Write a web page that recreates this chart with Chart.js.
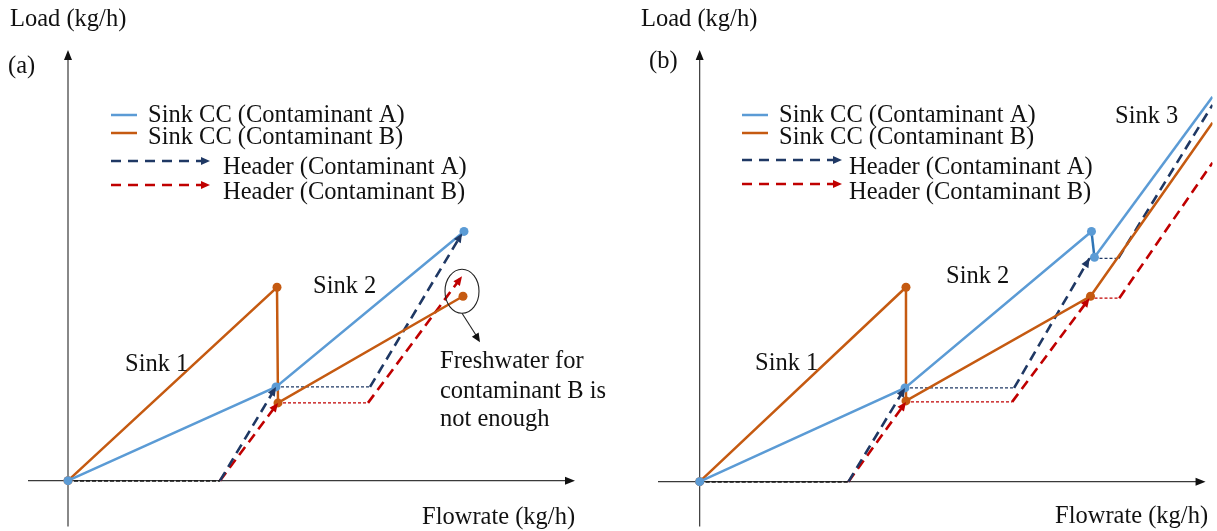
<!DOCTYPE html>
<html>
<head>
<meta charset="utf-8">
<script src="https://cdn.jsdelivr.net/npm/chart.js@4.4.1/dist/chart.umd.min.js"></script>
<style>
    html, body { margin: 0; padding: 0; background: #fff; }
    #wrap { position: relative; width: 1217px; height: 531px; overflow: hidden; }
    .panel { position: absolute; top: 0; height: 531px; }
</style>
</head>
<body>
<div id="wrap">
    <div class="panel" style="left:0;width:608px"><canvas id="chart-a"></canvas></div>
    <div class="panel" style="left:608px;width:609px"><canvas id="chart-b"></canvas></div>
</div>
<script>
// ── Panel (a) ─────────────────────────────────────────────
const aSinkA_x = [0, 20.8, 39.6];
const aSinkA_y = [0, 9.4, 25.0];
const aSinkB_x = [0, 20.9, 21.0, 39.5];
const aSinkB_y = [0, 19.4, 7.8, 18.5];
const aHeadA_x = [0, 15.2, 20.8, 30.2, 39.4];
const aHeadA_y = [0, 0, 9.4, 9.4, 24.8];
const aHeadB_x = [0, 15.2, 21.0, 30.0, 39.4];
const aHeadB_y = [0, 0, 7.8, 7.8, 20.5];
const aHeadKinds = ["dot", "dash", "thin", "dash"];
const aArrowAt = [2, 4];

// ── Panel (b) ─────────────────────────────────────────────
const bSinkA_x = [0, 20.7, 39.5, 39.8, 51.7];
const bSinkA_y = [0, 9.4, 25.1, 22.5, 38.6];
const bSinkB_x = [0, 20.8, 20.8, 39.4, 51.7];
const bSinkB_y = [0, 19.5, 8.1, 18.6, 36.0];
const bHeadA_x = [0, 15.0, 20.7, 31.7, 39.3, 42.2, 51.7];
const bHeadA_y = [0, 0, 9.4, 9.4, 22.4, 22.4, 37.8];
const bHeadB_x = [0, 15.0, 20.8, 31.5, 39.3, 42.3, 51.7];
const bHeadB_y = [0, 0, 8.0, 8.0, 18.4, 18.4, 32.0];
const bHeadKinds = ["dot", "dash", "thin", "dash", "thin", "dash"];
const bArrowAt = [2, 4];

const legendLabels = [
    "Sink CC (Contaminant A)",
    "Sink CC (Contaminant B)",
    "Header (Contaminant A)",
    "Header (Contaminant B)"
];

const BLUE = "#5B9BD5";
const BLUE_DARK = "#2E75B6";
const ORANGE = "#C55A11";
const NAVY = "#1F3864";
const RED = "#C00000";
const FONT = '24.5px "Liberation Serif", "Times New Roman", serif';

const SEG = {
    dot:  { width: 1.5, dash: [4, 2], color: "#1b1b1b" },
    dash: { width: 2.6, dash: [10, 6] },
    thin: { width: 1.2, dash: [3, 2] }
};

const zip = (xs, ys) => xs.map((x, i) => ({ x, y: ys[i] }));

function arrowHead(ctx, x0, y0, x1, y1, color, len = 9, half = 4) {
    const a = Math.atan2(y1 - y0, x1 - x0);
    ctx.save();
    ctx.fillStyle = color;
    ctx.beginPath();
    ctx.moveTo(x1, y1);
    ctx.lineTo(x1 - len * Math.cos(a) + half * Math.sin(a), y1 - len * Math.sin(a) - half * Math.cos(a));
    ctx.lineTo(x1 - len * Math.cos(a) - half * Math.sin(a), y1 - len * Math.sin(a) + half * Math.cos(a));
    ctx.closePath();
    ctx.fill();
    ctx.restore();
}

function sinkDataset(label, xs, ys, color, order, radii, darkSeg) {
    return {
        label,
        data: zip(xs, ys),
        showLine: true,
        borderColor: color,
        backgroundColor: color,
        borderWidth: 2.5,
        pointRadius: radii,
        pointBorderWidth: 0,
        order,
        segment: darkSeg === undefined ? undefined : {
            borderColor: (c) => c.p0DataIndex === darkSeg ? BLUE_DARK : color
        }
    };
}

function headerDataset(label, xs, ys, color, kinds, arrowAt, order) {
    return {
        label,
        data: zip(xs, ys),
        showLine: true,
        borderColor: color,
        borderWidth: 2.6,
        pointRadius: 0,
        order,
        arrowAt,
        arrowColor: color,
        segment: {
            borderDash: (c) => SEG[kinds[c.p0DataIndex]].dash,
            borderWidth: (c) => SEG[kinds[c.p0DataIndex]].width,
            borderColor: (c) => SEG[kinds[c.p0DataIndex]].color || color
        }
    };
}

// Eksenler: ok uçlu çizgiler, değerler ölçekten
const axesPlugin = {
    id: "arrowAxes",
    beforeDatasetsDraw(chart, args, opts) {
        const { ctx, scales: { x, y } } = chart;
        const x0 = x.getPixelForValue(0);
        const y0 = y.getPixelForValue(0);
        const xEnd = x.getPixelForValue(opts.xEnd);
        ctx.save();
        ctx.strokeStyle = "#3a3a3a";
        ctx.lineWidth = 1.2;
        ctx.beginPath();
        ctx.moveTo(x.left, y0);
        ctx.lineTo(xEnd - 4, y0);
        ctx.moveTo(x0, y.bottom);
        ctx.lineTo(x0, y.top + 4);
        ctx.stroke();
        ctx.restore();
        arrowHead(ctx, x.left, y0, xEnd, y0, "#111", 10, 4);
        arrowHead(ctx, x0, y.bottom, x0, y.top, "#111", 10, 4);
    }
};

const headsPlugin = {
    id: "headerArrows",
    afterDatasetsDraw(chart) {
        const ctx = chart.ctx;
        chart.data.datasets.forEach((ds, i) => {
            if (!ds.arrowAt) return;
            const pts = chart.getDatasetMeta(i).data;
            ds.arrowAt.forEach((k) => {
                arrowHead(ctx, pts[k - 1].x, pts[k - 1].y, pts[k].x, pts[k].y, ds.arrowColor, 9, 4);
            });
        });
    }
};

// Yazılar, el yapımı lejant ve (a) paneli için elips notu
const notesPlugin = {
    id: "notes",
    afterDraw(chart, args, opts) {
        const ctx = chart.ctx;
        const lg = opts.legend;
        ctx.save();

        // legend marks
        ctx.lineWidth = 2.5;
        [[BLUE, lg.y[0]], [ORANGE, lg.y[1]]].forEach(([c, yy]) => {
            ctx.strokeStyle = c;
            ctx.beginPath();
            ctx.moveTo(lg.x, yy);
            ctx.lineTo(lg.x + 26, yy);
            ctx.stroke();
        });
        [[NAVY, lg.y[2]], [RED, lg.y[3]]].forEach(([c, yy]) => {
            ctx.strokeStyle = c;
            ctx.setLineDash([10, 7]);
            ctx.beginPath();
            ctx.moveTo(lg.x, yy);
            ctx.lineTo(lg.dashEnd - 6, yy);
            ctx.stroke();
            ctx.setLineDash([]);
            arrowHead(ctx, lg.x, yy, lg.dashEnd, yy, c, 9, 4);
        });

        ctx.fillStyle = "#111";
        ctx.font = FONT;
        ctx.textBaseline = "middle";
        ctx.textAlign = "left";
        legendLabels.forEach((t, i) => {
            ctx.fillText(t, i < 2 ? lg.textX[0] : lg.textX[1], lg.textY[i]);
        });
        opts.texts.forEach((t) => ctx.fillText(t.text, t.x, t.y));

        if (opts.ellipse) {
            const { x, y } = chart.scales;
            const cx = x.getPixelForValue(opts.ellipse.x);
            const cy = y.getPixelForValue(opts.ellipse.y);
            ctx.strokeStyle = "#222";
            ctx.lineWidth = 1.1;
            ctx.beginPath();
            ctx.ellipse(cx, cy, 17, 22, 0, 0, Math.PI * 2);
            ctx.stroke();
            ctx.beginPath();
            ctx.moveTo(cx, cy + 22);
            ctx.lineTo(cx + 16, cy + 47);
            ctx.stroke();
            arrowHead(ctx, cx, cy + 22, cx + 18, cy + 51, "#111", 9, 4);
        }
        ctx.restore();
    }
};

function createPanel(canvasId, datasets, range, padding, notes, xEnd) {
    const ctx = document.getElementById(canvasId).getContext("2d");
    return new Chart(ctx, {
        type: "scatter",
        data: { datasets },
        options: {
            responsive: true,
            maintainAspectRatio: false,
            animation: false,
            layout: { padding },
            plugins: {
                legend: { display: false },
                tooltip: { enabled: false },
                arrowAxes: { xEnd },
                notes
            },
            scales: {
                x: { type: "linear", display: false, min: range.x[0], max: range.x[1] },
                y: { type: "linear", display: false, min: range.y[0], max: range.y[1] }
            }
        },
        plugins: [axesPlugin, headsPlugin, notesPlugin]
    });
}

createPanel("chart-a", [
    sinkDataset(legendLabels[0], aSinkA_x, aSinkA_y, BLUE, 1, 4.5),
    sinkDataset(legendLabels[1], aSinkB_x, aSinkB_y, ORANGE, 2, 4.5),
    headerDataset(legendLabels[2], aHeadA_x, aHeadA_y, NAVY, aHeadKinds, aArrowAt, 3),
    headerDataset(legendLabels[3], aHeadB_x, aHeadB_y, RED, aHeadKinds, aArrowAt, 4)
], { x: [-4, 51], y: [-4.6, 43.2] }, { left: 28, right: 30, top: 50, bottom: 3 }, {
    legend: { x: 111, dashEnd: 210, y: [115, 133, 161, 185], textX: [148, 223], textY: [116, 138, 168, 193] },
    texts: [
        { text: "Load (kg/h)", x: 10, y: 20 },
        { text: "(a)", x: 8, y: 67 },
        { text: "Sink 1", x: 125, y: 365 },
        { text: "Sink 2", x: 313, y: 287 },
        { text: "Freshwater for", x: 440, y: 362 },
        { text: "contaminant B is", x: 440, y: 392 },
        { text: "not enough", x: 440, y: 420 },
        { text: "Flowrate (kg/h)", x: 422, y: 518 }
    ],
    ellipse: { x: 39.4, y: 19.0 }
}, 50.7);

createPanel("chart-b", [
    sinkDataset(legendLabels[0], bSinkA_x, bSinkA_y, BLUE, 1, [4.5, 4.5, 4.5, 4.5, 0], 2),
    sinkDataset(legendLabels[1], bSinkB_x, bSinkB_y, ORANGE, 2, [4.5, 4.5, 4.5, 4.5, 0]),
    headerDataset(legendLabels[2], bHeadA_x, bHeadA_y, NAVY, bHeadKinds, bArrowAt, 3),
    headerDataset(legendLabels[3], bHeadB_x, bHeadB_y, RED, bHeadKinds, bArrowAt, 4)
], { x: [-4.2, 51.7], y: [-4.5, 43.3] }, { left: 50, right: 0, top: 50, bottom: 3 }, {
    legend: { x: 134, dashEnd: 234, y: [115, 133, 160, 184], textX: [171, 241], textY: [116, 138, 168, 193] },
    texts: [
        { text: "Load (kg/h)", x: 33, y: 20 },
        { text: "(b)", x: 41, y: 62 },
        { text: "Sink 1", x: 147, y: 364 },
        { text: "Sink 2", x: 338, y: 277 },
        { text: "Sink 3", x: 507, y: 117 },
        { text: "Flowrate (kg/h)", x: 447, y: 517 }
    ]
}, 51.0);
</script>
</body>
</html>
